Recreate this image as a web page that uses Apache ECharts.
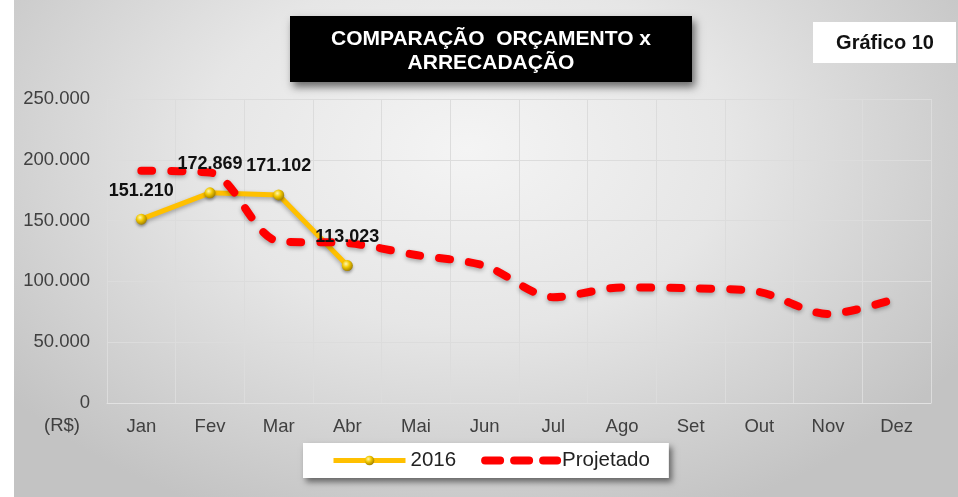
<!DOCTYPE html>
<html><head><meta charset="utf-8">
<script src="https://cdn.jsdelivr.net/npm/echarts@6/dist/echarts.min.js"></script>
<style>
html,body{margin:0;padding:0;background:#fff;}
#wrap{position:absolute;left:0;top:0;width:958px;height:497px;background:#fff;}
#bg{position:absolute;left:14px;top:0;width:944px;height:497px;
background:radial-gradient(ellipse 62% 80% at 48% 30%, #f4f4f4 0%, #e6e6e6 45%, #c3c3c3 100%);}
#c{position:absolute;left:0;top:0;width:958px;height:497px;}
</style>
</head><body>
<div id="wrap"><div id="bg"></div><div id="c"></div></div>
<script>
// ---- data ----
const months = ['Jan','Fev','Mar','Abr','Mai','Jun','Jul','Ago','Set','Out','Nov','Dez'];
const real2016 = [151210, 172869, 171102, 113023, null, null, null, null, null, null, null, null];
const projetado = [191000, 189500, 133000, 131500, 121700, 112800, 87000, 95000, 94300, 91300, 73200, 86000];
const yMin = 0, yMax = 250000, yStep = 50000;
const titleLines = ['COMPARAÇÃO  ORÇAMENTO x', 'ARRECADAÇÃO'];
const badgeText = 'Gráfico 10';
const unitText = '(R$)';
const seriesNames = ['2016', 'Projetado'];

function fmt(v){
  const s = Math.round(v).toString();
  return s.replace(/\B(?=(\d{3})+(?!\d))/g, '.');
}

const FONT = '"Liberation Sans", Arial, sans-serif';
const chart = echarts.init(document.getElementById('c'), null, {renderer:'canvas'});

const sphere = {
  type:'radial', x:0.38, y:0.35, r:0.7,
  colorStops:[{offset:0,color:'#fff7b0'},{offset:0.45,color:'#f2c800'},{offset:1,color:'#9a7a00'}]
};

chart.setOption({
  animation:false,
  backgroundColor:'transparent',
  grid:{left:107, right:27, top:99, bottom:94, containLabel:false},
  xAxis:{
    type:'category', data:months, boundaryGap:true,
    axisTick:{show:false},
    axisLine:{show:true, lineStyle:{color:'#e2e2e2', width:1}},
    splitLine:{show:true, lineStyle:{color:'#dcdcdc', width:1}},
    axisLabel:{color:'#404040', fontSize:18.5, fontFamily:FONT, margin:14}
  },
  yAxis:{
    type:'value', min:yMin, max:yMax, interval:yStep,
    axisLine:{show:false}, axisTick:{show:false},
    splitLine:{show:true, lineStyle:{color:'#dcdcdc', width:1}},
    axisLabel:{color:'#404040', fontSize:18.5, fontFamily:FONT, margin:17, formatter:v=>fmt(v)}
  },
  legend:{
    data:[
      {name:seriesNames[0], lineStyle:{width:5}},
      {name:seriesNames[1], lineStyle:{width:8, type:[15,14], cap:'round'}, itemStyle:{opacity:0}}
    ],
    left:303, top:443,
    orient:'horizontal',
    itemWidth:72, itemHeight:12, itemGap:25,
    padding:[7,19,7,28],
    backgroundColor:'#ffffff',
    shadowBlur:6, shadowColor:'rgba(0,0,0,0.5)', shadowOffsetX:3, shadowOffsetY:4,
    textStyle:{color:'#222', fontSize:20.5, fontFamily:FONT, padding:[0,0,0,0]}
  },
  series:[
    {
      name:seriesNames[0], type:'line', data:real2016, z:2,
      symbol:'circle', symbolSize:11, showSymbol:true,
      lineStyle:{color:'#FFC000', width:5, shadowColor:'rgba(0,0,0,0.3)', shadowBlur:4, shadowOffsetY:2},
      itemStyle:{color:sphere, borderWidth:0, shadowColor:'rgba(0,0,0,0.35)', shadowBlur:3, shadowOffsetY:2}
    },
    {
      name:seriesNames[1], type:'line', data:projetado, z:3,
      symbol:'none', smooth:0.3,
      lineStyle:{color:'#FF0000', width:8, type:[11,19], cap:'round', join:'round',
                 shadowColor:'rgba(0,0,0,0.3)', shadowBlur:4, shadowOffsetY:2},
      itemStyle:{color:'#FF0000'}
    },
    {
      name:'labels2016', type:'line', data:real2016, z:5,
      symbol:'circle', symbolSize:11, showSymbol:true, silent:true,
      lineStyle:{width:0, color:'rgba(0,0,0,0)'}, itemStyle:{color:'rgba(0,0,0,0)', borderWidth:0},
      label:{show:true, position:'top', distance:14, color:'#111', fontWeight:'bold',
             fontSize:18, fontFamily:FONT, formatter:p=>fmt(p.value)}
    }
  ],
  graphic:[
    {type:'rect', left:290, top:16, shape:{width:402, height:66},
     style:{fill:'#000', shadowBlur:8, shadowColor:'rgba(0,0,0,0.55)', shadowOffsetX:3, shadowOffsetY:5}, z:10},
    {type:'text', x:491, y:51, z:11,
     style:{text:titleLines.join('\n'), fill:'#fff', font:'bold 21px '+FONT, align:'center', verticalAlign:'middle', lineHeight:24}},
    {type:'rect', left:813, top:22, shape:{width:143, height:41}, style:{fill:'#fff'}, z:10},
    {type:'text', x:885, y:43, z:11,
     style:{text:badgeText, fill:'#111', font:'bold 20px '+FONT, align:'center', verticalAlign:'middle'}},
    {type:'text', x:62, y:426, z:11,
     style:{text:unitText, fill:'#404040', font:'18.5px '+FONT, align:'center', verticalAlign:'middle'}}
  ]
});
</script>
</body></html>
